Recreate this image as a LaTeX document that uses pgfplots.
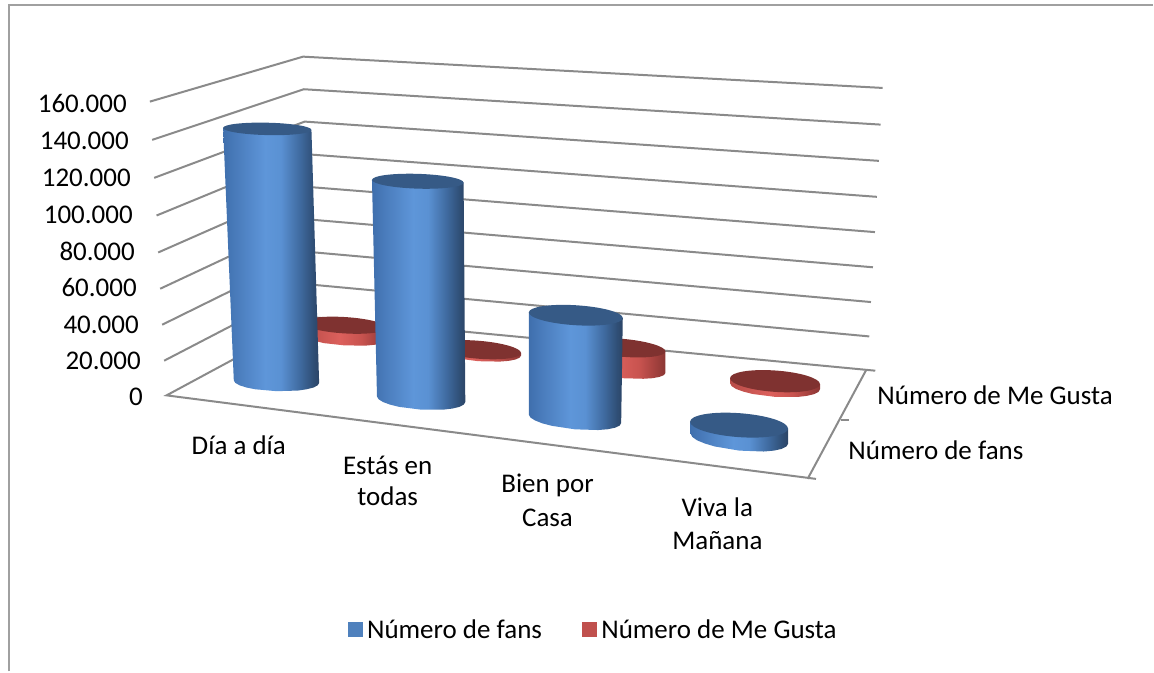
\documentclass[border=0pt]{standalone}
\usepackage{pgfplots}
\pgfplotsset{compat=1.18}
\usepackage{fontspec}
\setmainfont{Carlito}
\definecolor{gridc}{HTML}{8A8A8A}
\definecolor{framec}{HTML}{A0A0A0}
\definecolor{topb}{HTML}{365A86}
\definecolor{topr}{HTML}{7F3230}
\definecolor{legb}{HTML}{4F81BD}
\definecolor{legr}{HTML}{C0504D}
\definecolor{b1}{HTML}{3F6FAD}\definecolor{b2}{HTML}{4A7CBC}\definecolor{b3}{HTML}{5E96D9}\definecolor{b4}{HTML}{5A91D3}\definecolor{b5}{HTML}{3F6A9F}\definecolor{b6}{HTML}{2F4E75}\definecolor{b7}{HTML}{2C4566}
\definecolor{r1}{HTML}{B84C48}\definecolor{r2}{HTML}{DC605C}\definecolor{r3}{HTML}{C8534F}\definecolor{r4}{HTML}{A84340}\definecolor{r5}{HTML}{8A3634}
\pgfdeclarehorizontalshading{cylb}{100bp}{color(0bp)=(b1);color(25bp)=(b1);color(32bp)=(b2);color(47bp)=(b3);color(55bp)=(b4);color(65bp)=(b5);color(72bp)=(b6);color(75bp)=(b7);color(100bp)=(b7)}
\pgfdeclarehorizontalshading{cylr}{100bp}{color(0bp)=(r1);color(25bp)=(r1);color(47bp)=(r2);color(60bp)=(r3);color(68bp)=(r4);color(75bp)=(r5);color(100bp)=(r5)}
\newcommand{\lab}{\fontsize{27}{32}\selectfont}
\begin{document}
\begin{tikzpicture}
\begin{axis}[
  scale only axis, width=1154pt, height=672pt,
  xmin=0, xmax=1154, ymin=0, ymax=672, y dir=reverse,
  hide axis, clip=false,
  legend style={draw=none, fill=none, at={(axis cs:348,630)}, anchor=west, font=\lab, inner sep=0pt, outer sep=0pt,
    /tikz/every odd column/.append style={column sep=3pt},
    /tikz/every even column/.append style={column sep=38pt}},
  legend columns=2,
  legend cell align=left,
  grid line/.style={gridc, line width=2pt, no markers, forget plot},
  frame line/.style={framec, line width=2pt, no markers, forget plot},
  body/.style={draw=none, no markers, forget plot, shade},
  top/.style={draw=none, no markers, forget plot, smooth cycle, tension=1},
]
\addlegendimage{legend image code/.code={\fill[legb] (0pt,-7pt) rectangle (14pt,7pt);}}
\addlegendentry{Número de fans}
\addlegendimage{legend image code/.code={\fill[legr] (0pt,-7pt) rectangle (14pt,7pt);}}
\addlegendentry{Número de Me Gusta}
% page extent
\path (axis cs:0,0) rectangle (axis cs:1154,672);
% chart frame
\addplot[frame line] coordinates {(9,672) (9,5) (1154,5)};
% walls and floor: front left, back left, back right
\addplot[grid line] coordinates {(150,101.7) (303.3,56.7) (883.3,88)};
\addplot[grid line] coordinates {(152.3,140) (304,89.3) (881.3,124.7)};
\addplot[grid line] coordinates {(154.3,178) (305,121.7) (879.7,161)};
\addplot[grid line] coordinates {(156.7,215.7) (306,154.3) (877.7,197)};
\addplot[grid line] coordinates {(158.3,252.7) (307.5,187) (875.7,232.3)};
\addplot[grid line] coordinates {(160.3,289) (308.5,219.6) (873.7,267.5)};
\addplot[grid line] coordinates {(162.3,325) (310,252.2) (871.7,302.3)};
\addplot[grid line] coordinates {(164.3,361) (311,284.8) (870,336.7)};
\addplot[grid line] coordinates {(312,317.4) (876,371)};
\addplot[grid line] coordinates {(312,317.4) (166.7,395.7) (816.7,479.3)};
\addplot[grid line] coordinates {(808.3,479.3) (866.7,370.7)};
\addplot[grid line] coordinates {(841.7,420) (849.3,420)};
% Número de Me Gusta
\addplot[body, shading=cylr] coordinates {(303,323) (387,328) (387,340) (381.4,343.8) (374.7,345.1) (366,345.9) (345,345.7) (324,343.4) (308.6,339.4) (303,335)} --cycle;
\addplot[top, fill=topr] coordinates {(387,328) (345,333.7) (303,323) (345,317.3)};
\addplot[body, shading=cylr] coordinates {(435.5,346.7) (521.5,353.3) (521.5,355.8) (520,358) (515.7,359.9) (508.9,361.2) (500,361.9) (478.5,361.5) (457,358.6) (441.3,354.1) (435.5,349.2)} --cycle;
\addplot[top, fill=topr] coordinates {(521.5,353.3) (478.5,359) (435.5,346.7) (478.5,341)};
\addplot[body, shading=cylr] coordinates {(578,344.3) (666,351.7) (666,373.2) (664.5,375.4) (660.1,377.2) (653.1,378.5) (644,379.1) (622,378.5) (600,375.4) (583.9,371) (578,365.8)} --cycle;
\addplot[top, fill=topr] coordinates {(666,351.7) (622,357) (578,344.3) (622,339)};
\addplot[body, shading=cylr] coordinates {(730.7,378.5) (820.7,384.5) (820.7,389.5) (819.2,392.2) (814.7,394.5) (807.5,396.2) (798.2,397.3) (775.7,397.2) (753.2,394.3) (743.9,391.9) (736.7,389.3) (732.2,386.4) (730.7,383.5)} --cycle;
\addplot[top, fill=topr] coordinates {(820.7,384.5) (775.7,392.2) (730.7,378.5) (775.7,370.8)};
% Número de fans
\addplot[body, shading=cylb] coordinates {(223.3,128) (311.7,130) (319.4,383.3) (317.9,385.7) (313.7,387.9) (306.9,389.6) (298.1,390.9) (276.7,391.5) (255.4,389.6) (246.5,387.8) (239.7,385.6) (235.5,383.2) (234,380.7)} --cycle;
\addplot[top, fill=topb] coordinates {(311.7,130) (267.5,135.2) (223.3,128) (267.5,122.8)};
\addplot[body, shading=cylb] coordinates {(372.3,180) (464,182.7) (465.7,402.3) (464.2,404.9) (459.8,407.2) (452.8,408.9) (443.6,410) (421.5,410) (399.4,407.2) (390.2,404.9) (383.2,402.3) (378.8,399.5) (377.3,396.7)} --cycle;
\addplot[top, fill=topb] coordinates {(464,182.8) (418.2,188.8) (372.4,180) (418.2,174)};
\addplot[body, shading=cylb] coordinates {(529.3,312.7) (623.3,318.3) (621.7,423.4) (620.1,426) (615.5,428.1) (608.2,429.6) (598.6,430.4) (575.5,429.7) (552.4,426.2) (542.8,423.7) (535.5,420.8) (530.9,417.9) (529.3,415)} --cycle;
\addplot[top, fill=topb] coordinates {(623.3,318.3) (576.3,325.5) (529.3,312.7) (576.3,305.5)};
\addplot[body, shading=cylb] coordinates {(690.7,422.1) (788.7,428.9) (788.8,444) (787.1,446.9) (782.3,449.3) (774.5,451) (764.4,451.9) (740,451) (715.6,446.9) (705.5,443.9) (697.7,440.7) (692.9,437.3) (691.2,434)} --cycle;
\addplot[top, fill=topb] coordinates {(788.7,428.9) (739.7,437.5) (690.7,422.1) (739.7,413.5)};
% value axis labels
\node[anchor=east, font=\lab, inner sep=0pt] at (axis cs:127,104) {160.000};
\node[anchor=east, font=\lab, inner sep=0pt] at (axis cs:129,141) {140.000};
\node[anchor=east, font=\lab, inner sep=0pt] at (axis cs:131,178) {120.000};
\node[anchor=east, font=\lab, inner sep=0pt] at (axis cs:133,215) {100.000};
\node[anchor=east, font=\lab, inner sep=0pt] at (axis cs:135,252) {80.000};
\node[anchor=east, font=\lab, inner sep=0pt] at (axis cs:137,288) {60.000};
\node[anchor=east, font=\lab, inner sep=0pt] at (axis cs:139,325) {40.000};
\node[anchor=east, font=\lab, inner sep=0pt] at (axis cs:141,361) {20.000};
\node[anchor=east, font=\lab, inner sep=0pt] at (axis cs:143,397) {0};
% category labels
\node[font=\lab, inner sep=0pt] at (axis cs:239,446) {Día a día};
\node[font=\lab, inner sep=0pt] at (axis cs:388,466) {Estás en};
\node[font=\lab, inner sep=0pt] at (axis cs:388,497) {todas};
\node[font=\lab, inner sep=0pt] at (axis cs:548,486) {Bien por};
\node[font=\lab, inner sep=0pt] at (axis cs:548,518) {Casa};
\node[font=\lab, inner sep=0pt] at (axis cs:718,508) {Viva la};
\node[font=\lab, inner sep=0pt] at (axis cs:718,541) {Mañana};
% series labels
\node[anchor=west, font=\lab, inner sep=0pt] at (axis cs:878,396) {Número de Me Gusta};
\node[anchor=west, font=\lab, inner sep=0pt] at (axis cs:849,451) {Número de fans};
\end{axis}
\end{tikzpicture}
\end{document}
